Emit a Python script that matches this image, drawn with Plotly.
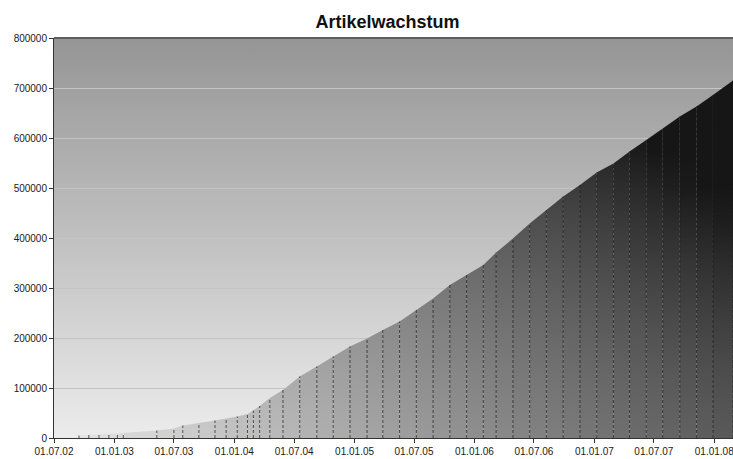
import base64
import numpy as np
import pandas as pd
import plotly.graph_objects as go

# ---- data ----
dates = ['2002-09-15', '2002-10-15', '2002-11-15', '2002-12-15', '2003-01-10', '2003-01-28',
         '2003-05-10', '2003-07-01', '2003-07-28', '2003-09-15', '2003-11-03', '2003-12-07',
         '2004-01-10', '2004-02-10', '2004-02-28', '2004-03-18', '2004-04-18', '2004-05-28',
         '2004-07-18', '2004-09-08', '2004-10-28', '2004-12-18', '2005-02-08', '2005-03-28',
         '2005-05-18', '2005-07-08', '2005-08-28', '2005-10-18', '2005-12-08', '2006-01-28',
         '2006-03-08', '2006-04-28', '2006-06-18', '2006-08-08', '2006-09-28', '2006-11-18',
         '2007-01-08', '2007-02-28', '2007-04-18', '2007-06-08', '2007-07-28', '2007-09-18',
         '2007-11-08', '2007-12-28', '2008-02-27']
articles = [5000, 6600, 7000, 8000, 9000, 10000,
            15000, 19000, 25000, 30000, 35000, 39000,
            43000, 48000, 55000, 64000, 80000, 96000,
            123000, 143000, 163000, 183000, 199000, 216000,
            233000, 256000, 279000, 306000, 326000, 346000,
            371000, 399000, 429000, 456000, 483000, 506000,
            531000, 549000, 573000, 596000, 619000, 643000,
            663000, 686000, 715000]

title_text = "Artikelwachstum"
x_range = ['2002-07-01', '2008-02-27']
y_range = [0, 800000]

# ---- styling: grey gradient of the area (light bottom-left, dark top-right) ----
L_BASE, L_PER_U, L_PER_V, L_CORNER = 228, 140, 66, 60


def shade(u, v):
    val = L_BASE - L_PER_U * u - L_PER_V * v - L_CORNER * (u * v) ** 2
    val = int(round(min(236, max(22, val))))
    return f"rgb({val},{val},{val})"


d = pd.to_datetime(dates)
span = (d[-1] - d[0]).total_seconds()
tx = np.array([(di - d[0]).total_seconds() / span for di in d])
ymax = max(articles)

fig = go.Figure()

# area, drawn slice by slice so the fill gets a two-dimensional gradient
for i in range(len(dates) - 1):
    mid = (tx[i] + tx[i + 1]) / 2
    cs = [[float(p), shade(mid, p)] for p in np.linspace(0, 1, 11)]
    fig.add_trace(go.Scatter(
        x=[dates[i], dates[i + 1]], y=[articles[i], articles[i + 1]],
        mode='lines', line=dict(width=0), fill='tozeroy',
        fillgradient=dict(type='vertical', start=0, stop=ymax, colorscale=cs),
        hoverinfo='skip', showlegend=False))

# dashed drop lines at each data point
dx, dy = [], []
for xi, yi in zip(dates, articles):
    dx += [xi, xi, None]
    dy += [0, yi, None]
fig.add_trace(go.Scatter(x=dx, y=dy, mode='lines',
                         line=dict(color='rgba(25,25,25,0.7)', width=1, dash='3px,2px'),
                         hoverinfo='skip', showlegend=False))

# background gradient of the plot area
svg = ('<svg xmlns="http://www.w3.org/2000/svg" width="10" height="100" preserveAspectRatio="none">'
       '<defs><linearGradient id="g" x1="0" y1="0" x2="0" y2="1">'
       '<stop offset="0" stop-color="#959595"/><stop offset="1" stop-color="#ececec"/>'
       '</linearGradient></defs><rect width="10" height="100" fill="url(#g)"/></svg>')
src = "data:image/svg+xml;base64," + base64.b64encode(svg.encode()).decode()

fig.update_layout(
    width=733, height=459, autosize=False,
    margin=dict(l=54, r=0, t=38, b=21, pad=0),
    paper_bgcolor='white', plot_bgcolor='rgba(0,0,0,0)',
    title=dict(text=f"<b>{title_text}</b>", x=387.5 / 733, xanchor='center',
               y=1 - 22 / 459, yanchor='middle',
               font=dict(family='Liberation Sans, Arial', size=18, color='#111')),
    font=dict(family='Liberation Sans, Arial', size=10, color='#1a1a1a'),
    images=[dict(source=src, xref='paper', yref='paper', x=0, y=1, sizex=1, sizey=1,
                 xanchor='left', yanchor='top', sizing='stretch', layer='below')],
    shapes=[dict(type='line', xref='paper', yref='paper', x0=0, x1=1, y0=1, y1=1,
                 line=dict(color='#5e5e5e', width=2))],
    xaxis=dict(type='date', range=x_range, tick0='2002-07-01', dtick='M6',
               tickformat='%d.%m.%y', ticks='outside', ticklen=4, tickcolor='#333',
               showgrid=False, showline=True, linecolor='#333', linewidth=1,
               zeroline=False, automargin=False, ticklabeloverflow='allow'),
    yaxis=dict(range=y_range, dtick=100000, tickformat='d', ticks='outside', ticklen=4,
               tickcolor='#333', showgrid=True, gridcolor='#c4c4c4', gridwidth=1,
               showline=True, linecolor='#333', linewidth=1, zeroline=False,
               automargin=False),
)

fig.write_html("out.html", config={'displayModeBar': False},
               post_script="document.body.style.margin='0';"
                           "document.body.style.overflow='hidden';")
